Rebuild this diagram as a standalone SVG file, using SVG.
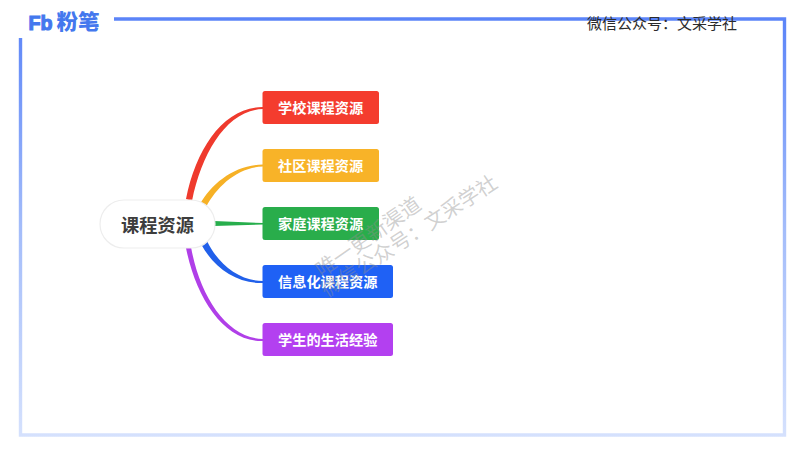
<svg xmlns="http://www.w3.org/2000/svg" width="800" height="450" viewBox="0 0 800 450">
<defs>
<linearGradient id="frame" gradientUnits="userSpaceOnUse" x1="0" y1="18" x2="0" y2="436">
<stop offset="0" stop-color="#5b84f8"/>
<stop offset="0.5" stop-color="#a3bcfa"/>
<stop offset="1" stop-color="#d5e1fd"/>
</linearGradient>
</defs>
<style>
text{font-family:"Noto Sans CJK SC","Liberation Sans",sans-serif}
.box{stroke:none}
.lbl{font-size:14.200px;font-weight:700;fill:#fff;dominant-baseline:central}
.wm{font-size:20.500px;fill:#8f8f8f;fill-opacity:.42}
</style>
<rect width="800" height="450" fill="#fff"/>
<path id="frame-line" d="M114 19H784.500V435H20.500V38" fill="none" stroke="url(#frame)" stroke-width="3.400"/>
<g id="logo" fill="#4478ee">
<text x="28.500" y="29.500" font-size="21" textLength="24" lengthAdjust="spacingAndGlyphs" stroke="#4478ee" stroke-width="1.200" style="font-family:'Liberation Sans',sans-serif;font-weight:700">Fb</text>
<text x="56.500" y="28.500" font-size="21" font-weight="900" textLength="43" lengthAdjust="spacingAndGlyphs">粉笔</text>
</g>
<text id="header" x="587" y="28.500" font-size="15" fill="#2b2b2b">微信公众号：文采学社</text>
<g id="connectors">
<path d="M186 199C196 148 224 106.800 263 107L263 109C227 110 202 152 192 201Z" fill="#ef3a2d"/>
<path d="M200 204C212 183 235 164.500 263 164.500L263 166.500C238 167 217 186 206 207Z" fill="#f6b126"/>
<path d="M214 221L263 223V224.500L214 226Z" fill="#27ae4c"/>
<path d="M201 244C214 268 237 284 263 283V281C239 281 218 264 207 241Z" fill="#2160ea"/>
<path d="M186 248C196 298 224 342 263 341V339C227 338 200 297 191 247Z" fill="#b03fe8"/>
</g>
<g id="root">
<rect x="100" y="200" width="115" height="48" rx="24" fill="#fff" stroke="#ededed" stroke-width="1.200"/>
<text x="157.500" y="223.500" font-size="18.200" font-weight="700" fill="#3d3d3d" text-anchor="middle" dominant-baseline="central">课程资源</text>
</g>
<g id="n1"><rect class="box" x="262.500" y="91" width="116.500" height="33" rx="2.500" fill="#f43c2e"/><text class="lbl" x="278" y="107.300">学校课程资源</text></g>
<g id="n2"><rect class="box" x="262.500" y="149" width="116.500" height="33" rx="2.500" fill="#f8b328"/><text class="lbl" x="278" y="165.300">社区课程资源</text></g>
<g id="n3"><rect class="box" x="262.500" y="207" width="116.500" height="33" rx="2.500" fill="#29ad4b"/><text class="lbl" x="278" y="223.300">家庭课程资源</text></g>
<g id="n4"><rect class="box" x="262.500" y="265" width="130.500" height="33" rx="2.500" fill="#1f61f5"/><text class="lbl" x="278" y="281.300">信息化课程资源</text></g>
<g id="n5"><rect class="box" x="262.500" y="323" width="130.500" height="33" rx="2.500" fill="#b340f0"/><text class="lbl" x="278" y="339.300">学生的生活经验</text></g>
<g id="watermark">
<text class="wm" transform="translate(322 278) rotate(-35)">唯一更新渠道</text>
<text class="wm" transform="translate(327 298) rotate(-33)">微信公众号：文采学社</text>
</g>
</svg>
